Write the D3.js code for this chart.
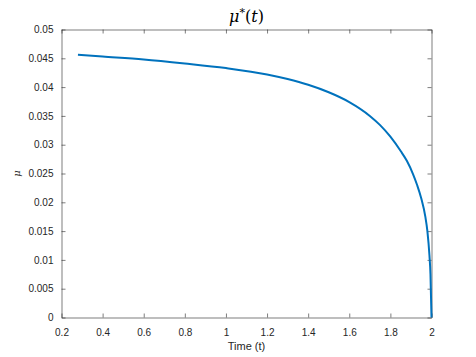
<!DOCTYPE html>
<html>
<head>
<meta charset="utf-8">
<script src="https://cdn.jsdelivr.net/npm/d3@7"></script>
<style>
  body { margin: 0; background: #fff; }
  svg { display: block; }
  .tick text { font-family: "Liberation Sans", Arial, sans-serif; font-size: 10px; fill: #262626; }
</style>
</head>
<body>
<svg width="476" height="357"></svg>
<script>
// values
const times = [0.28, 0.4, 0.6, 0.8, 1.0, 1.2, 1.3, 1.4, 1.5, 1.6, 1.7, 1.75, 1.8, 1.85, 1.88, 1.91, 1.93, 1.95, 1.97, 1.98, 1.99, 1.995, 2.0];
const mu = [0.0456, 0.0453, 0.0448, 0.0441, 0.0433, 0.0422, 0.0414, 0.0404, 0.0391, 0.0374, 0.0350, 0.0334, 0.0314, 0.0289, 0.0272, 0.0249, 0.0230, 0.0207, 0.0175, 0.0150, 0.0108, 0.0075, 0.0];
const xTicks = [0.2, 0.4, 0.6, 0.8, 1, 1.2, 1.4, 1.6, 1.8, 2];
const yTicks = [0, 0.005, 0.01, 0.015, 0.02, 0.025, 0.03, 0.035, 0.04, 0.045, 0.05];

const margin = { top: 29.5, right: 44.5, bottom: 39.5, left: 61.5 };
const svg = d3.select('svg');
const width = 476 - margin.left - margin.right;
const height = 357 - margin.top - margin.bottom;

const g = svg.append('g').attr('transform', `translate(${margin.left},${margin.top})`);

const x = d3.scaleLinear().domain([0.2, 2]).range([0, width]);
const y = d3.scaleLinear().domain([0, 0.05]).range([height, 0]);

const fmt = d => String(+d.toFixed(3));
const axisColor = '#262626';

// bottom and left axes with inward ticks
const xAxis = g.append('g')
  .attr('transform', `translate(0,${height})`)
  .call(d3.axisBottom(x).tickValues(xTicks).tickFormat(fmt).tickSizeInner(-4).tickSizeOuter(0).tickPadding(11));
const yAxis = g.append('g')
  .call(d3.axisLeft(y).tickValues(yTicks).tickFormat(fmt).tickSizeInner(-4).tickSizeOuter(0).tickPadding(8));
// top and right: ticks only
const xTop = g.append('g')
  .call(d3.axisTop(x).tickValues(xTicks).tickFormat('').tickSizeInner(-4).tickSizeOuter(0));
const yRight = g.append('g')
  .attr('transform', `translate(${width},0)`)
  .call(d3.axisRight(y).tickValues(yTicks).tickFormat('').tickSizeInner(-4).tickSizeOuter(0));

[xAxis, yAxis, xTop, yRight].forEach(a => {
  a.select('.domain').attr('stroke', axisColor).attr('stroke-width', 0.6);
  a.selectAll('.tick line').attr('stroke', axisColor).attr('stroke-width', 0.6);
});

const line = d3.line()
  .x((d, i) => x(times[i]))
  .y(d => y(d))
  .curve(d3.curveMonotoneX);

g.append('path')
  .datum(mu)
  .attr('fill', 'none')
  .attr('stroke', '#0072BD')
  .attr('stroke-width', 2)
  .attr('d', line);

// title
svg.append('text')
  .attr('x', margin.left + width / 2)
  .attr('y', 22)
  .attr('text-anchor', 'middle')
  .style('font-family', '"DejaVu Serif", "Liberation Serif", serif')
  .style('font-size', '16px')
  .style('fill', '#000')
  .html('<tspan font-style="italic">μ</tspan><tspan dy="-6" font-size="11px">*</tspan><tspan dy="6">(</tspan><tspan font-style="italic">t</tspan><tspan>)</tspan>');

// axis labels
svg.append('text')
  .attr('x', margin.left + width / 2)
  .attr('y', 350)
  .attr('text-anchor', 'middle')
  .style('font-family', '"Liberation Sans", Arial, sans-serif')
  .style('font-size', '11px')
  .style('fill', axisColor)
  .text('Time (t)');

svg.append('text')
  .attr('transform', `translate(20,${margin.top + height / 2}) rotate(-90)`)
  .attr('text-anchor', 'middle')
  .style('font-family', '"DejaVu Serif", serif')
  .style('font-style', 'italic')
  .style('font-size', '10px')
  .style('fill', axisColor)
  .text('μ');
</script>
</body>
</html>
